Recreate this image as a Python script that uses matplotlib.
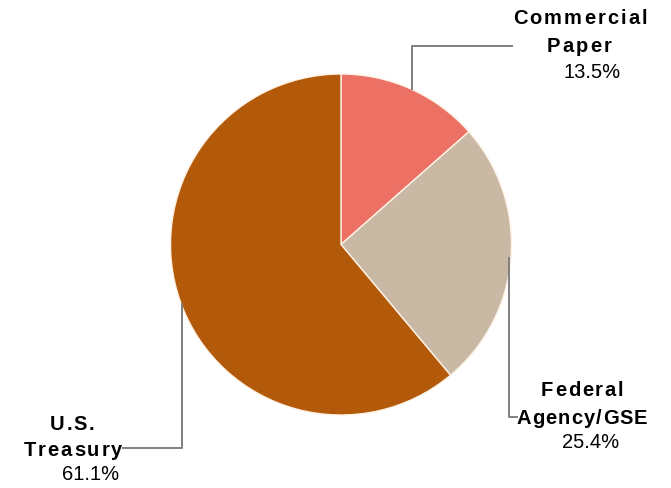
import matplotlib
matplotlib.use("Agg")
import matplotlib.pyplot as plt
from matplotlib.font_manager import FontProperties
from matplotlib.textpath import text_to_path

categories = ["Commercial\nPaper", "Federal\nAgency/GSE", "U.S.\nTreasury"]
values = [13.5, 25.4, 61.1]
pct_labels = ["13.5%", "25.4%", "61.1%"]
colors = ["#EC7064", "#C9B9A4", "#B35A0A"]

W, H = 671, 488
DPI = 100
fig = plt.figure(figsize=(W / DPI, H / DPI), dpi=DPI)
ax = fig.add_axes([0, 0, 1, 1])
ax.set_xlim(0, W)
ax.set_ylim(0, H)
ax.axis("off")

def Y(y):
    return H - y

cx, cy, r = 341, 244.5, 170.5
ax.pie(values, colors=colors, startangle=90, counterclock=False,
       center=(cx, Y(cy)), radius=r,
       wedgeprops=dict(edgecolor="#FFF3E6", linewidth=1.0))
ax.set_xlim(0, W)
ax.set_ylim(0, H)
ax.set_aspect("equal")

lc = "#7F7F7F"
lw = 1.4
# leader lines (layout)
ax.plot([412, 412, 513], [Y(90), Y(46), Y(46)], color=lc, lw=lw, solid_capstyle="butt")
ax.plot([509, 509, 518], [Y(257), Y(417), Y(417)], color=lc, lw=lw, solid_capstyle="butt")
ax.plot([182, 182, 122], [Y(303), Y(448), Y(448)], color=lc, lw=lw, solid_capstyle="butt")

fs = 14.5
bold = FontProperties(family="Liberation Sans", weight="bold", size=fs)
reg = FontProperties(family="Liberation Sans", size=fs)

def spaced_text(s, xc, yc, prop, spacing):
    widths = []
    for ch in s:
        w, h, d = text_to_path.get_text_width_height_descent(ch, prop, ismath=False)
        widths.append(w * DPI / 72.0)
    total = sum(widths) + spacing * (len(s) - 1)
    x = xc - total / 2
    for ch, w in zip(s, widths):
        ax.text(x, Y(yc), ch, ha="left", va="center_baseline", fontproperties=prop)
        x += w + spacing

# label lines: (center x, center y, letter spacing)
line_pos = [
    [(580, 17, 2.1), (579, 44, 2.0)],
    [(582, 388, 1.8), (582, 417, 1.1)],
    [(72, 423, 1.5), (73, 448, 2.0)],
]
pct_pos = [(592, 73), (591, 443), (91, 475)]
for name, pct, lines, (px, py) in zip(categories, pct_labels, line_pos, pct_pos):
    for part, (lx, ly, sp) in zip(name.split("\n"), lines):
        spaced_text(part, lx, ly, bold, sp)
    ax.text(px, Y(py), pct, ha="center", va="center", fontproperties=reg)

fig.savefig("out.png", dpi=DPI)
